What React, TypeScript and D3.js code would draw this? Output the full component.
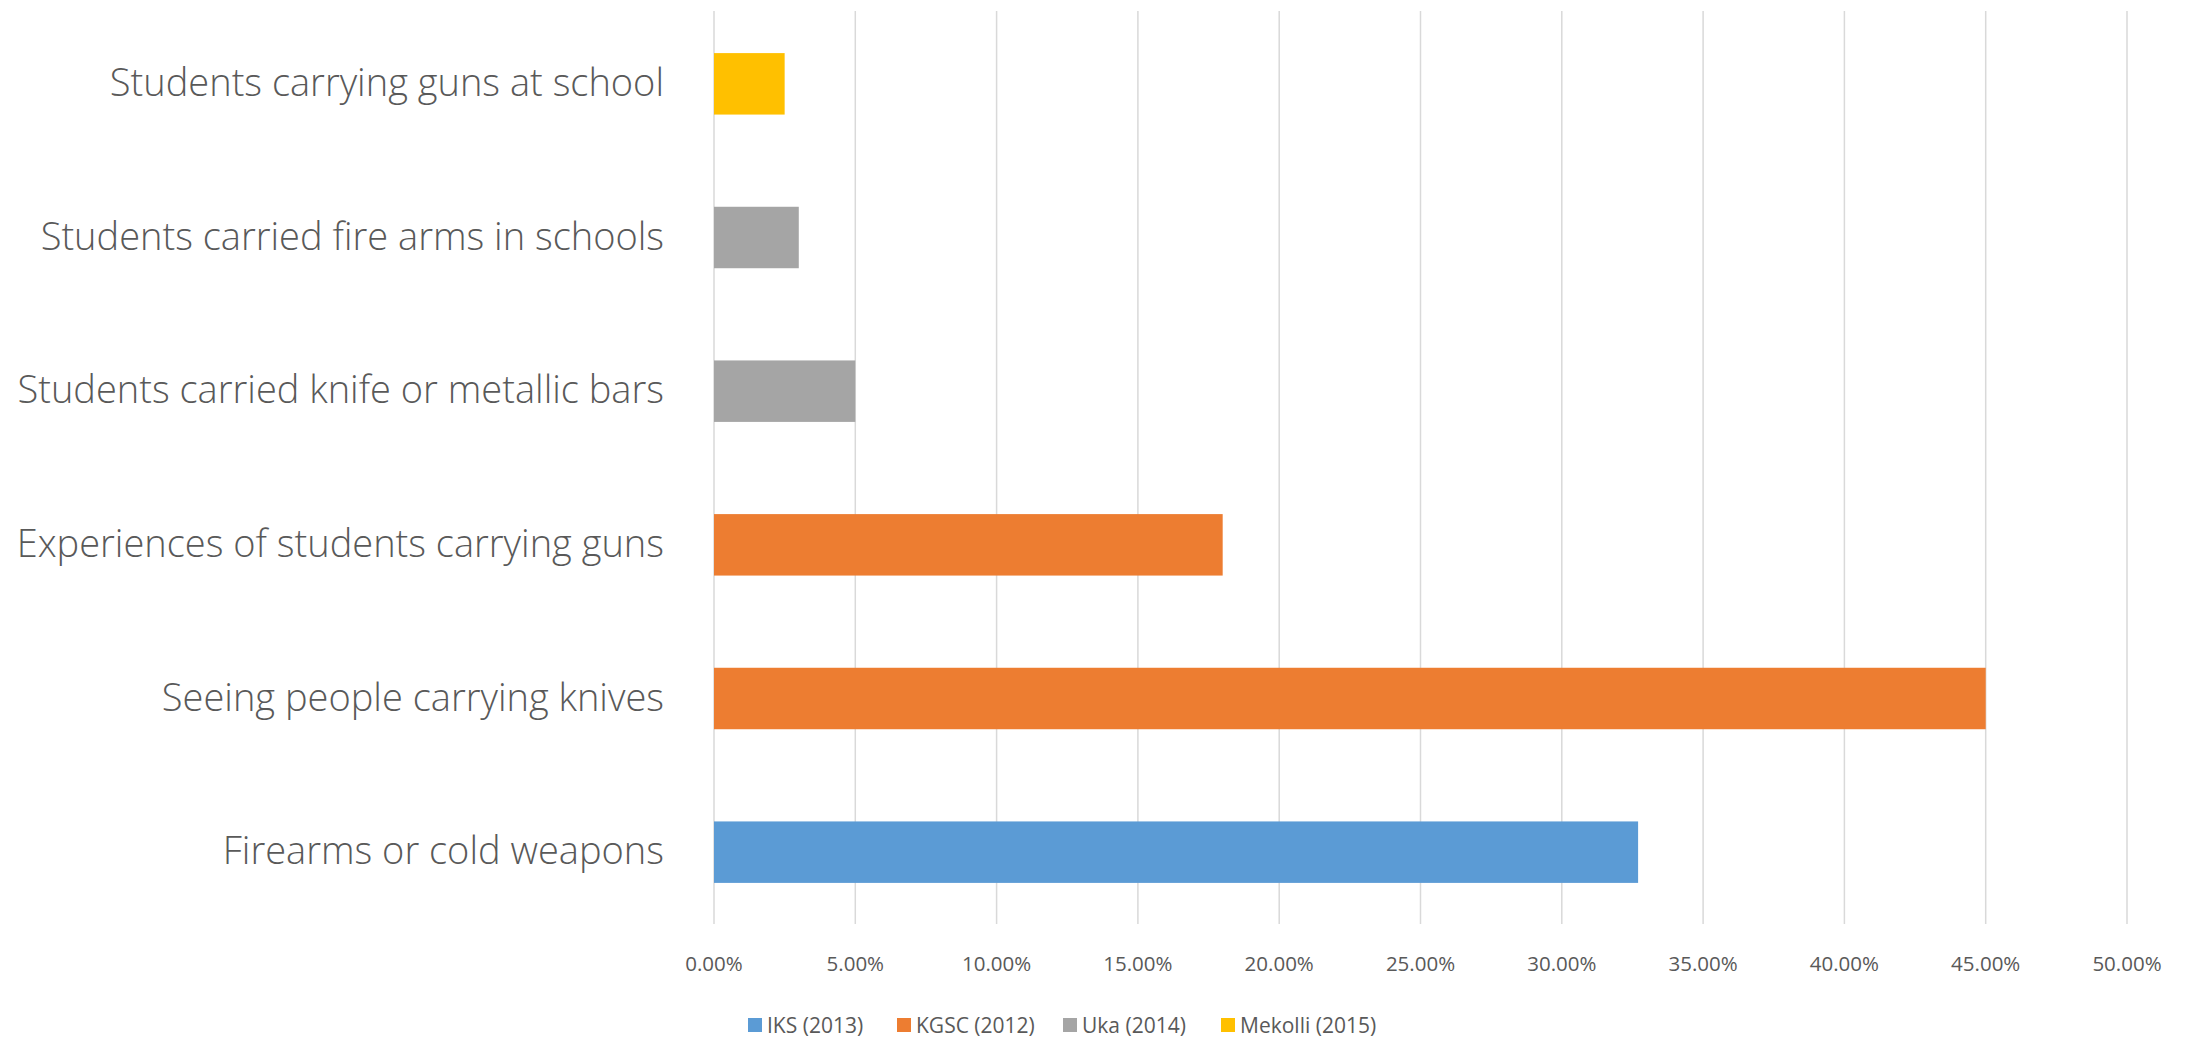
import React from "react";
import * as d3 from "d3";

const categories = [
  "Firearms or cold weapons",
  "Seeing people carrying knives",
  "Experiences of students carrying guns",
  "Students carried knife or metallic bars",
  "Students carried fire arms in schools",
  "Students carrying guns at school",
];
const values = [0.327, 0.45, 0.18, 0.05, 0.03, 0.025];
const seriesOfCategory = [
  "IKS (2013)",
  "KGSC (2012)",
  "KGSC (2012)",
  "Uka (2014)",
  "Uka (2014)",
  "Mekolli (2015)",
];
const seriesNames = ["IKS (2013)", "KGSC (2012)", "Uka (2014)", "Mekolli (2015)"];
const seriesColors = ["#5B9BD5", "#ED7D31", "#A5A5A5", "#FFC000"];
const xTicks = [0, 0.05, 0.1, 0.15, 0.2, 0.25, 0.3, 0.35, 0.4, 0.45, 0.5];

const W = 2195;
const H = 1038;
const M = { left: 714, right: 2127, top: 7, bottom: 929 };
const FONT = "'Open Sans', 'Noto Sans', sans-serif";
const TEXT = "#595959";

export default function App() {
  const x = d3.scaleLinear().domain([0, 0.5]).range([M.left, M.right]);
  const y = d3
    .scaleBand<string>()
    .domain([...categories].reverse())
    .range([M.top, M.bottom])
    .paddingInner(0.6)
    .paddingOuter(0.3);
  const color = d3.scaleOrdinal<string, string>().domain(seriesNames).range(seriesColors);
  const fmt = d3.format(".2%");

  const legendX = [748, 897, 1063, 1221];

  return (
    <svg
      width={W}
      height={H}
      style={{ position: "absolute", left: 0, top: 0, background: "#fff" }}
    >
      <rect x={0} y={0} width={W} height={H} fill="#fff" />
      {xTicks.map((t) => (
        <line
          key={"g" + t}
          x1={x(t)}
          x2={x(t)}
          y1={11}
          y2={924}
          stroke="#D9D9D9"
          strokeWidth={1.5}
        />
      ))}
      {categories.map((c, i) => (
        <rect
          key={c}
          x={x(0)}
          y={y(c)}
          width={x(values[i]) - x(0)}
          height={y.bandwidth()}
          fill={color(seriesOfCategory[i])}
        />
      ))}
      {categories.map((c) => (
        <text
          key={"l" + c}
          x={664}
          y={(y(c) as number) + y.bandwidth() / 2 - 3}
          textAnchor="end"
          dominantBaseline="central"
          fontFamily={FONT}
          fontWeight={300}
          fontSize={38}
          fill={TEXT}
        >
          {c}
        </text>
      ))}
      {xTicks.map((t) => (
        <text
          key={"t" + t}
          x={x(t)}
          y={963}
          textAnchor="middle"
          dominantBaseline="central"
          fontFamily={FONT}
          fontSize={20.5}
          fill={TEXT}
        >
          {fmt(t)}
        </text>
      ))}
      {seriesNames.map((s, i) => (
        <g key={"lg" + s} transform={`translate(${legendX[i]},1025)`}>
          <rect x={0} y={-7} width={14} height={14} fill={color(s)} />
          <text
            x={19}
            y={0}
            dominantBaseline="central"
            fontFamily={FONT}
            fontSize={21}
            fill={TEXT}
          >
            {s}
          </text>
        </g>
      ))}
    </svg>
  );
}
